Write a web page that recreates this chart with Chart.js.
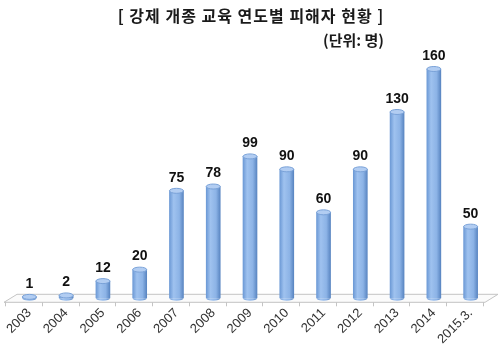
<!DOCTYPE html>
<html>
<head>
<meta charset="utf-8">
<script src="https://cdn.jsdelivr.net/npm/chart.js@4.4.1/dist/chart.umd.min.js"></script>
<style>
    body { margin: 0; background: #fff; }
    #wrap { position: relative; width: 502px; height: 354px; }
    .title {
        position: absolute; left: 0; width: 502px; top: 3px;
        text-align: center; font: bold 16px "Noto Sans CJK KR"; color: #1a1a1a;
        letter-spacing: 1px;
    }
    .unit {
        position: absolute; right: 118px; top: 29px;
        font: bold 15px "Noto Sans CJK KR"; color: #1a1a1a;
    }
</style>
</head>
<body>
<div id="wrap">
    <canvas id="damageChart"></canvas>
    <div class="title">[ 강제 개종 교육 연도별 피해자 현황 ]</div>
    <div class="unit">(단위: 명)</div>
</div>
<script>
const years = ["2003", "2004", "2005", "2006", "2007", "2008", "2009", "2010", "2011", "2012", "2013", "2014", "2015.3."];
const victims = [1, 2, 12, 20, 75, 78, 99, 90, 60, 90, 130, 160, 50];

const BAR_W = 14;

// gradient for the cylinder body, across the bar
function cylinderFill(context) {
    const chart = context.chart;
    if (!chart.chartArea) return "#8db3e2";
    const x = chart.scales.x.getPixelForValue(context.dataIndex);
    const g = chart.ctx.createLinearGradient(x - BAR_W / 2, 0, x + BAR_W / 2, 0);
    g.addColorStop(0, "#6d9ad6");
    g.addColorStop(0.3, "#9fc2ef");
    g.addColorStop(0.7, "#8cb3e6");
    g.addColorStop(1, "#5a86c2");
    return g;
}

// floor plane + tick marks, drawn under the bars
const floorPlugin = {
    id: "floor",
    beforeDatasetsDraw(chart) {
        const { ctx, chartArea: a, scales: { x } } = chart;
        const step = x.getPixelForValue(1) - x.getPixelForValue(0);
        const front = a.bottom + 4, back = a.bottom - 4, shift = 13;
        ctx.save();
        ctx.strokeStyle = "#c4c4c4";
        ctx.lineWidth = 1;
        ctx.fillStyle = "#fbfbfb";
        ctx.beginPath();
        ctx.moveTo(a.left - 7, front);
        ctx.lineTo(a.left - 7 + shift, back);
        ctx.lineTo(a.right + 9, back);
        ctx.lineTo(a.right + 9 - shift, front);
        ctx.closePath();
        ctx.fill();
        ctx.stroke();
        for (let i = 0; i <= years.length; i++) {
            const tx = Math.round(x.getPixelForValue(i) - step / 2 - 6) + 0.5;
            ctx.beginPath();
            ctx.moveTo(tx, front);
            ctx.lineTo(tx, front + 4);
            ctx.stroke();
        }
        ctx.restore();
    },
    afterDatasetsDraw(chart) {
        const { ctx } = chart;
        const meta = chart.getDatasetMeta(0);
        ctx.save();
        meta.data.forEach((bar, i) => {
            const rx = BAR_W / 2, ry = 2.5;
            // bottom rounding
            ctx.fillStyle = cylinderFill({ chart, dataIndex: i });
            ctx.beginPath();
            ctx.ellipse(bar.x, bar.base, rx, ry, 0, 0, Math.PI);
            ctx.fill();
            // top cap
            ctx.fillStyle = "#b2cdf2";
            ctx.strokeStyle = "#7aa2d8";
            ctx.lineWidth = 1;
            ctx.beginPath();
            ctx.ellipse(bar.x, bar.y, rx, ry, 0, 0, Math.PI * 2);
            ctx.fill();
            ctx.stroke();
            // value label
            ctx.fillStyle = "#111";
            ctx.font = "bold 14px 'Liberation Sans'";
            ctx.textAlign = "center";
            ctx.textBaseline = "bottom";
            ctx.fillText(String(victims[i]), bar.x, bar.y - 6);
        });
        ctx.restore();
    }
};

new Chart(document.getElementById("damageChart"), {
    type: "bar",
    data: {
        labels: years,
        datasets: [{
            data: victims,
            backgroundColor: cylinderFill,
            borderWidth: 0,
            barThickness: BAR_W
        }]
    },
    options: {
        responsive: true,
        maintainAspectRatio: false,
        animation: false,
        layout: { padding: { top: 69, left: 11, right: 13, bottom: 0 } },
        plugins: { legend: { display: false }, tooltip: { enabled: false } },
        scales: {
            y: { display: false, min: 0, max: 160 },
            x: {
                grid: { display: false, drawTicks: false },
                border: { display: false },
                ticks: {
                    autoSkip: false,
                    minRotation: 45,
                    maxRotation: 45,
                    padding: 7,
                    color: "#333",
                    font: { family: "Liberation Sans", size: 13 }
                }
            }
        }
    },
    plugins: [floorPlugin]
});
</script>
</body>
</html>
